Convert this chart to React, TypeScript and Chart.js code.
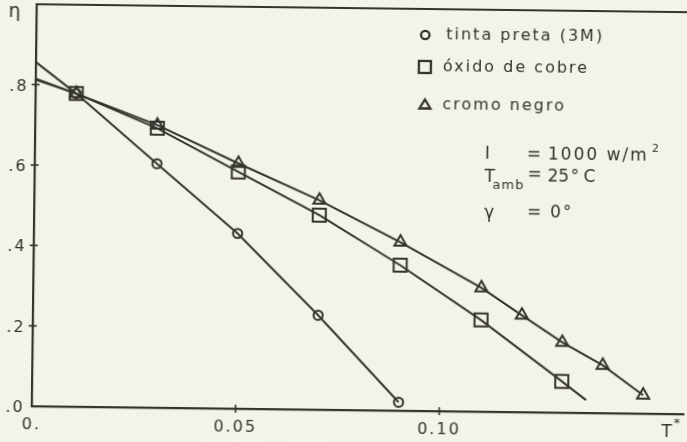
import React, { useEffect, useRef } from 'react';
import { Chart, registerables } from 'chart.js';

Chart.register(...registerables);

// ---- data ----
const tintaT = [0, 0.01, 0.03, 0.05, 0.07, 0.09];
const tintaEta = [0.856, 0.779, 0.607, 0.436, 0.235, 0.021];
const tintaMarked = [false, true, true, true, true, true];

const cobreT = [0, 0.01, 0.03, 0.05, 0.07, 0.09, 0.11, 0.13, 0.136];
const cobreEta = [0.812, 0.779, 0.695, 0.589, 0.484, 0.362, 0.228, 0.078, 0.032];
const cobreMarked = [false, true, true, true, true, true, true, true, false];

const cromoT = [0, 0.01, 0.03, 0.05, 0.07, 0.09, 0.11, 0.12, 0.13, 0.14, 0.15];
const cromoEta = [0.815, 0.779, 0.703, 0.61, 0.521, 0.419, 0.308, 0.241, 0.175, 0.119, 0.046];
const cromoMarked = [false, true, true, true, true, true, true, true, true, true, true];

const xLabelValues = [0, 0.05, 0.1];
const xLabelTexts = ['0.', '0.05', '0.10'];
const yLabelValues = [0, 0.2, 0.4, 0.6, 0.8];
const yLabelTexts = ['.0', '.2', '.4', '.6', '.8'];

const legendLabels = ['tinta preta (3M)', 'óxido de cobre', 'cromo negro'];

const INK = '#34332d';
const PAPER = '#f4f3ea';
const FONT = '"DejaVu Sans", sans-serif';

function findLabel(v: number, values: number[], texts: string[]) {
  for (let i = 0; i < values.length; i++) {
    if (Math.abs(values[i] - v) < 1e-6) return texts[i];
  }
  return undefined;
}

function toPoints(xs: number[], ys: number[]) {
  return xs.map((x, i) => ({ x, y: ys[i] }));
}

const paperPlugin = {
  id: 'paper',
  beforeLayout(chart: any) {
    chart.ctx.letterSpacing = '2px';
  },
  beforeDraw(chart: any) {
    const ctx = chart.ctx;
    ctx.save();
    ctx.fillStyle = PAPER;
    ctx.fillRect(0, 0, chart.width, chart.height);
    ctx.restore();
    ctx.letterSpacing = '2px';
  },
  afterDraw(chart: any) {
    const ctx = chart.ctx;
    const a = chart.chartArea;
    const xs = chart.scales.x;
    const ys = chart.scales.y;
    ctx.save();
    ctx.strokeStyle = INK;
    ctx.fillStyle = INK;
    // top frame line
    ctx.lineWidth = 2.2;
    ctx.beginPath();
    ctx.moveTo(a.left - 1, a.top);
    ctx.lineTo(chart.width, a.top);
    ctx.stroke();
    // crossing tick marks
    ctx.lineWidth = 1.6;
    xs.ticks.forEach((t: any) => {
      if (t.value <= 1e-6) return;
      const px = xs.getPixelForValue(t.value);
      ctx.beginPath();
      ctx.moveTo(px, a.bottom - 4);
      ctx.lineTo(px, a.bottom + 4);
      ctx.stroke();
    });
    ys.ticks.forEach((t: any) => {
      if (t.value <= 1e-6 || t.value >= 1 - 1e-6) return;
      const py = ys.getPixelForValue(t.value);
      ctx.beginPath();
      ctx.moveTo(a.left - 4, py);
      ctx.lineTo(a.left + 4, py);
      ctx.stroke();
    });

    // legend symbols
    ctx.lineWidth = 2.3;
    ctx.beginPath();
    ctx.arc(423, 34, 4.2, 0, Math.PI * 2);
    ctx.stroke();
    ctx.strokeRect(417, 60, 12, 12);
    ctx.beginPath();
    ctx.moveTo(423.5, 98.5);
    ctx.lineTo(429, 107.5);
    ctx.lineTo(418, 107.5);
    ctx.closePath();
    ctx.stroke();

    ctx.textBaseline = 'middle';
    ctx.textAlign = 'left';
    ctx.letterSpacing = '2px';
    ctx.font = `16px ${FONT}`;
    ctx.fillText(legendLabels[0], 444, 34);
    ctx.fillText(legendLabels[1], 441, 66);
    ctx.fillText(legendLabels[2], 441, 104);

    // parameters
    ctx.font = `17px ${FONT}`;
    ctx.fillText('I', 484, 153);
    ctx.fillText('=', 526, 153);
    ctx.fillText('1000 w/m', 547, 153);
    ctx.font = `11px ${FONT}`;
    ctx.letterSpacing = '0px';
    ctx.fillText('2', 651, 145);

    ctx.font = `17px ${FONT}`;
    ctx.fillText('T', 484, 176);
    ctx.font = `13px ${FONT}`;
    ctx.letterSpacing = '1px';
    ctx.fillText('amb', 492, 184);
    ctx.font = `17px ${FONT}`;
    ctx.letterSpacing = '0px';
    ctx.fillText('=', 527, 173);
    ctx.fillText('25', 547, 175);
    ctx.fillText('°', 570, 175);
    ctx.fillText('C', 583, 175);

    ctx.letterSpacing = '2px';
    ctx.fillText('γ', 484, 212);
    ctx.fillText('=', 527, 211);
    ctx.fillText('0°', 550, 211);

    // axis titles
    ctx.letterSpacing = '0px';
    ctx.font = `19px ${FONT}`;
    ctx.fillText('η', 6, 16);
    ctx.font = `17px ${FONT}`;
    ctx.fillText('T', 664, 429);
    ctx.font = `13px ${FONT}`;
    ctx.fillText('*', 676, 420);
    ctx.restore();
  },
};

export default function App() {
  const ref = useRef<HTMLCanvasElement | null>(null);

  useEffect(() => {
    if (!ref.current) return;
    const radiusFrom = (flags: boolean[], r: number) => flags.map((f) => (f ? r : 0));
    const common = {
      borderColor: INK,
      backgroundColor: 'transparent',
      borderWidth: 2,
      pointBorderWidth: 2,
      pointBorderColor: INK,
      pointBackgroundColor: 'transparent',
      tension: 0,
      clip: false as any,
    };
    const chart = new Chart(ref.current, {
      type: 'line',
      data: {
        datasets: [
          {
            ...common,
            label: legendLabels[0],
            data: toPoints(tintaT, tintaEta),
            pointStyle: 'circle',
            pointRadius: radiusFrom(tintaMarked, 4.6),
          },
          {
            ...common,
            label: legendLabels[1],
            data: toPoints(cobreT, cobreEta),
            pointStyle: 'rect',
            pointRadius: radiusFrom(cobreMarked, 9.2),
          },
          {
            ...common,
            label: legendLabels[2],
            data: toPoints(cromoT, cromoEta),
            pointStyle: 'triangle',
            pointRadius: radiusFrom(cromoMarked, 7),
          },
        ],
      },
      options: {
        animation: false,
        responsive: false,
        maintainAspectRatio: false,
        layout: { autoPadding: false, padding: { top: 8, right: 1, left: 0, bottom: 0 } },
        plugins: {
          legend: { display: false },
          tooltip: { enabled: false },
          title: { display: false },
        },
        scales: {
          x: {
            type: 'linear',
            min: 0,
            max: 0.16,
            grid: { display: false, drawTicks: false },
            border: { display: true, color: INK, width: 2.2 },
            afterFit: (s: any) => {
              s.height = 32;
              s.paddingLeft = 0;
              s.paddingRight = 0;
            },
            ticks: {
              stepSize: 0.01,
              autoSkip: false,
              maxRotation: 0,
              padding: 9,
              color: INK,
              font: { family: FONT, size: 16 },
              callback: (v: any) => findLabel(Number(v), xLabelValues, xLabelTexts),
            },
          },
          y: {
            type: 'linear',
            min: 0,
            max: 1,
            grid: { display: false, drawTicks: false },
            border: { display: true, color: INK, width: 2.2 },
            afterFit: (s: any) => {
              s.width = 34;
              s.paddingTop = 0;
              s.paddingBottom = 0;
            },
            ticks: {
              stepSize: 0.1,
              autoSkip: false,
              padding: 7,
              labelOffset: 2,
              color: INK,
              font: { family: FONT, size: 16 },
              callback: (v: any) => findLabel(Number(v), yLabelValues, yLabelTexts),
            },
          },
        },
      },
      plugins: [paperPlugin],
    });
    return () => chart.destroy();
  }, []);

  return (
    <div
      style={{
        position: 'fixed',
        left: 0,
        top: 0,
        width: 687,
        height: 442,
        overflow: 'hidden',
        background: PAPER,
      }}
    >
      <canvas
        ref={ref}
        width={687}
        height={442}
        style={{
          display: 'block',
          width: 687,
          height: 442,
          transform: 'rotate(0.7deg)',
          transformOrigin: '50% 50%',
        }}
      />
    </div>
  );
}
